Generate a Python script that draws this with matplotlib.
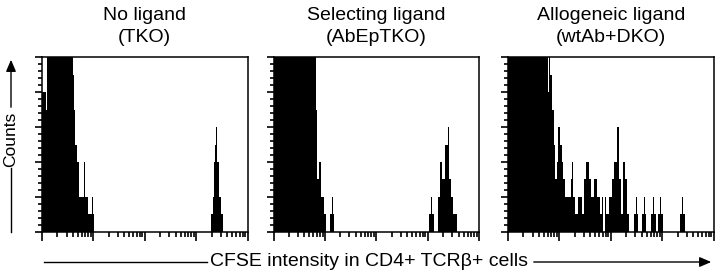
import numpy as np
import matplotlib
matplotlib.use("Agg")
import matplotlib.pyplot as plt
from matplotlib.lines import Line2D
from matplotlib.patches import FancyArrowPatch

plt.rcParams['font.family'] = ['Liberation Sans', 'DejaVu Sans']

# ---------------- data ----------------
titles = [("No ligand", "(TKO)"),
          ("Selecting ligand", "(AbEpTKO)"),
          ("Allogeneic ligand", "(wtAb+DKO)")]
xlabel = "CFSE intensity in CD4+ TCR\u03b2+ cells"
ylabel = "Counts"

n_bins = 200              # log channels over 4 decades
bin_width_log = 0.02      # decades per channel
ymax = 10                 # counts at the top of the frame (taller bars are clipped)

# (start channel, counts) runs
p1_segments = [
    (0, [8, 8, 8, 8, 7] + [14] * 25 + [9, 7, 5, 5, 4, 4, 2, 2, 2, 2, 2, 4, 2, 2, 2,
                                        1, 1, 1, 1, 2, 1]),
    (164, [1, 1, 2, 4, 5, 6, 4, 4, 2, 2, 1, 1]),
]
p2_segments = [
    (0, [14] * 41 + [7, 3, 3, 4, 4, 2, 2, 2, 1, 1]),
    (55, [1, 1, 2, 1]),
    (151, [1, 1, 2, 1, 1]),
    (160, [2, 2, 4, 4, 3, 3, 3, 5, 5, 5, 6, 3, 3, 2, 2, 1, 1, 1, 1]),
]
p3_segments = [
    (0, [14] * 39 + [8, 14, 9, 9, 7, 7, 5, 3, 3, 4, 6, 6, 5, 5, 4, 3,
                     2, 2, 2, 2, 2, 2, 3, 4, 2, 2, 1, 1, 1, 2, 2, 2, 2, 1, 1,
                     3, 3, 4, 4, 4, 3, 3, 2, 2, 2, 3, 3, 3, 2, 2, 2, 1, 2, 0, 0,
                     2, 1, 1, 1, 2, 2, 2, 3, 3, 4, 4, 4, 6, 6, 3, 3, 1, 1, 4, 4,
                     3, 3, 1, 1]),
    (123, [1, 1, 2, 1]),
    (130, [1, 1, 2, 1]),
    (139, [1, 1, 2, 1, 1]),
    (146, [1, 1, 2, 1, 1]),
    (167, [1, 1, 2, 1, 1]),
]
panels = [p1_segments, p2_segments, p3_segments]

# ---------------- figure ----------------
W, H = 720, 278
fig = plt.figure(figsize=(W / 100, H / 100), dpi=100)

lefts_px = [42, 273.5, 508]
width_px = 205.5
top_px, bottom_px = 57.3, 231.7

def fx(x):
    return x / W

def fy(y):
    return 1 - y / H

edges = 10 ** (np.arange(n_bins + 1) * bin_width_log)

for i, segs in enumerate(panels):
    ax = fig.add_axes([fx(lefts_px[i]), fy(bottom_px), width_px / W,
                       (bottom_px - top_px) / H])
    counts = np.zeros(n_bins)
    for start, vals in segs:
        counts[start:start + len(vals)] = vals
    ax.stairs(counts, edges, fill=True, color='black', linewidth=0)
    ax.set_xscale('log')
    ax.set_xlim(1, 1e4)
    ax.set_ylim(0, ymax)
    ax.set_xticks([1, 10, 100, 1000, 10000])
    ax.set_xticks([m * 10 ** d for d in range(4) for m in range(2, 10)], minor=True)
    ax.set_yticks(np.arange(0, ymax + 0.01, 2))
    ax.set_yticks(np.arange(0, ymax + 0.01, 0.4), minor=True)
    ax.tick_params(which='both', direction='out', labelbottom=False, labelleft=False,
                   color='black', width=1.2)
    ax.tick_params(axis='x', which='major', length=6.5)
    ax.tick_params(axis='x', which='minor', length=3.5)
    ax.tick_params(axis='y', which='major', length=5)
    ax.tick_params(axis='y', which='minor', length=3)
    for s in ax.spines.values():
        s.set_linewidth(1.1)
        s.set_color('black')

    cx = lefts_px[i] + width_px / 2
    fig.text(fx(cx), fy(16), titles[i][0], ha='center', va='center', fontsize=14)
    fig.text(fx(cx), fy(37), titles[i][1], ha='center', va='center', fontsize=14)

# x label with arrow
ly = fy(262)
fig.text(fx(369), ly, xlabel, ha='center', va='center', fontsize=14)
fig.add_artist(Line2D([fx(44), fx(207)], [ly, ly], color='black', lw=1.0))
fig.add_artist(FancyArrowPatch((fx(531), ly), (fx(714), ly),
                               arrowstyle='-|>,head_length=7,head_width=3',
                               color='black', lw=1.0, mutation_scale=1,
                               transform=fig.transFigure))

# y label with arrow
lx = fx(11)
fig.text(lx, fy(139), ylabel, ha='center', va='center', rotation=90, fontsize=12.5)
fig.add_artist(Line2D([lx, lx], [fy(232), fy(168)], color='black', lw=1.0))
fig.add_artist(FancyArrowPatch((lx, fy(110)), (lx, fy(57)),
                               arrowstyle='-|>,head_length=7,head_width=3',
                               color='black', lw=1.0, mutation_scale=1,
                               transform=fig.transFigure))

fig.savefig("out.png", dpi=100)
